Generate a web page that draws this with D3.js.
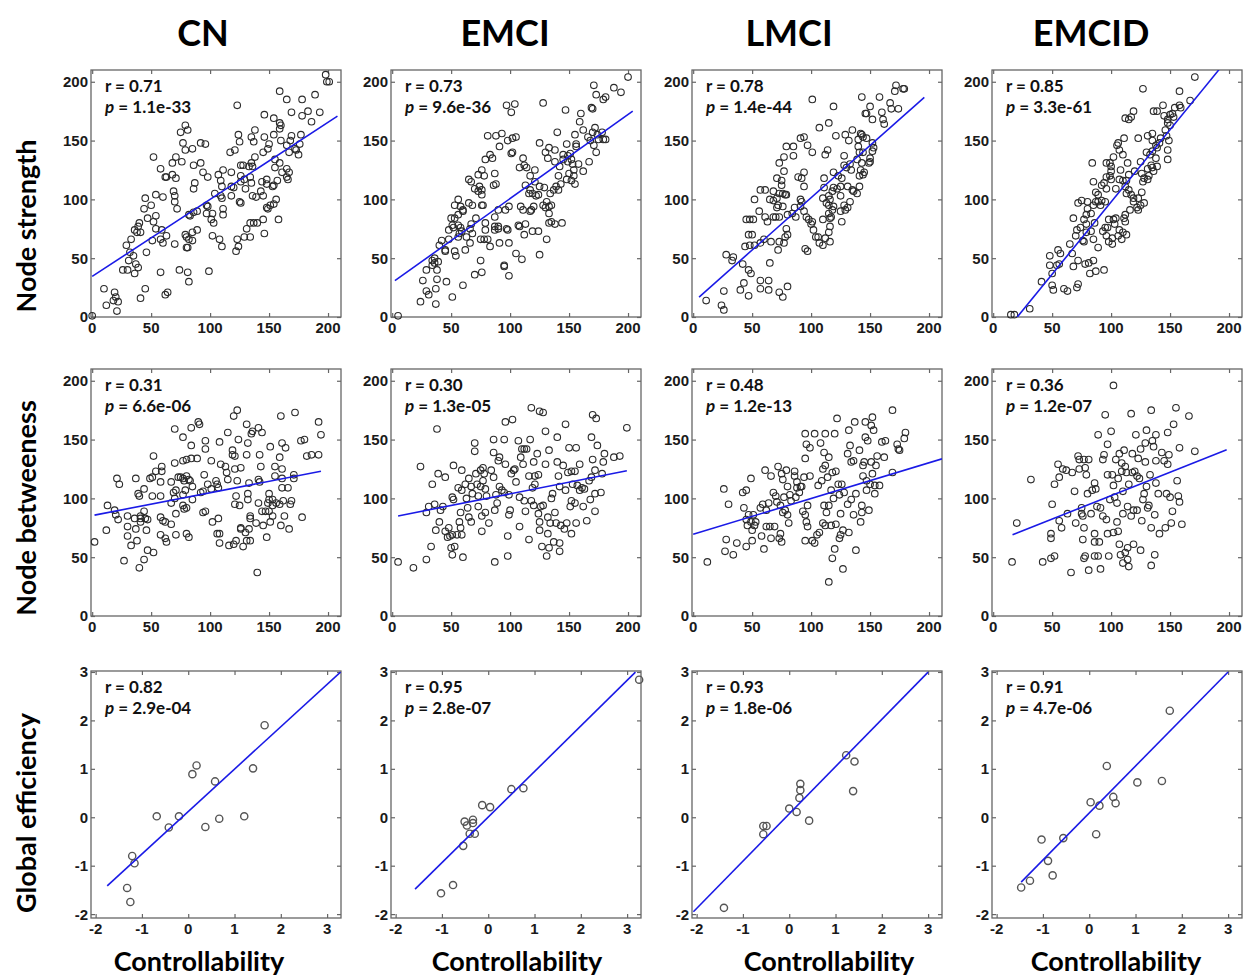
<!DOCTYPE html>
<meta charset="utf-8">
<style>
body { margin: 0; background: #fff; }
.tick-label { font: bold 15px "Liberation Sans", Arial, sans-serif; fill: #1a1a1a; }
.stat { font: bold 17px Lato, sans-serif; fill: #111; }
.title { font: bold 36px Lato, sans-serif; fill: #000; }
.rowlab, .xlab { font: bold 27px Lato, sans-serif; fill: #000; }
</style>
<svg width="1247" height="977"></svg>
<script src="https://d3js.org/d3.v7.min.js"></script>
<script>

var groups = ["CN", "EMCI", "LMCI", "EMCID"];
var rowLabels = ["Node strength", "Node betweeness", "Global efficiency"];

// r and p annotations, one array per row
var statStrength = [["0.71", "1.1e-33"], ["0.73", "9.6e-36"], ["0.78", "1.4e-44"], ["0.85", "3.3e-61"]];
var statBetween  = [["0.31", "6.6e-06"], ["0.30", "1.3e-05"], ["0.48", "1.2e-13"], ["0.36", "1.2e-07"]];
var statGlobal   = [["0.82", "2.9e-04"], ["0.95", "2.8e-07"], ["0.93", "1.8e-06"], ["0.91", "4.7e-06"]];

// fitted lines: [slope, intercept, xStart, xEnd]
var fitStrength = [[0.655, 34.5, 0, 208], [0.715, 29.2, 2.3, 204], [0.889, 12.5, 5, 196], [1.229, -25.1, 20.4, 191.4]];
var fitBetween  = [[0.194, 85.4, 2, 194], [0.198, 84.1, 5, 199], [0.304, 69.5, 0, 211], [0.398, 62.5, 16.4, 198]];
var fitGlobal   = [[0.876, 0.118, -1.75, 3.29], [0.941, 0.003, -1.58, 3.18], [0.976, 0.07, -2.07, 3], [0.971, 0.087, -1.47, 3]];

var strengthCN = [[198,206],[199,200],[201,200],[159,192],[165,185],[178,185],[189,189],[123,180],[146,172],[154,169],[169,174],[178,171],[183,175],[193,174],[186,166],[159,165],[160,163],[159,160],[138,159],[146,153],[154,155],[169,154],[177,155],[168,150],[150,147],[160,150],[165,146],[167,140],[173,142],[175,138],[176,147],[172,143],[124,155],[125,149],[135,153],[137,149],[117,140],[121,142],[138,136],[135,131],[126,129],[128,129],[133,128],[136,128],[145,140],[149,143],[155,134],[159,131],[155,127],[165,126],[167,123],[161,123],[165,119],[166,117],[118,123],[111,125],[107,121],[126,120],[129,117],[126,115],[134,119],[135,114],[144,115],[148,113],[153,111],[154,112],[157,116],[148,117],[109,116],[110,111],[118,111],[120,110],[130,109],[143,107],[109,103],[104,105],[110,101],[118,103],[125,98],[126,97],[136,103],[139,102],[145,103],[148,93],[149,92],[151,95],[154,96],[156,100],[158,83],[145,83],[137,80],[134,80],[140,80],[131,75],[129,68],[134,68],[123,66],[124,60],[122,56],[146,71],[111,92],[111,87],[102,88],[97,88],[98,94],[103,80],[102,69],[108,66],[110,60],[101,83],[75,157],[79,163],[81,159],[77,148],[71,136],[76,132],[68,131],[79,142],[85,143],[92,148],[96,147],[92,131],[86,129],[87,114],[94,123],[98,119],[68,121],[71,118],[63,119],[58,126],[52,136],[62,119],[69,107],[70,103],[70,98],[72,92],[86,109],[86,89],[82,87],[83,86],[89,90],[97,95],[54,104],[60,102],[50,95],[45,101],[44,92],[54,86],[52,81],[47,84],[54,75],[59,74],[63,69],[51,65],[58,66],[60,63],[40,80],[39,77],[36,74],[38,72],[41,72],[33,66],[29,61],[32,55],[35,52],[46,55],[31,48],[37,45],[39,42],[36,37],[26,40],[30,40],[70,62],[79,70],[80,68],[82,66],[80,59],[81,59],[85,72],[85,65],[89,74],[58,38],[74,40],[81,38],[82,30],[99,39],[62,19],[64,21],[45,24],[41,16],[10,24],[12,10],[19,21],[18,14],[20,17],[22,13],[21,5],[0,1]];

var strengthEMCI = [[200,204],[171,197],[188,195],[194,191],[173,189],[181,187],[179,185],[169,178],[170,177],[160,173],[147,176],[128,182],[97,180],[104,181],[101,174],[159,166],[162,159],[170,157],[172,161],[166,153],[168,150],[174,155],[175,151],[178,157],[179,151],[181,151],[171,146],[173,140],[167,132],[162,124],[155,155],[156,147],[156,145],[148,147],[151,139],[145,138],[149,132],[152,134],[153,130],[158,130],[145,134],[149,137],[154,125],[150,122],[154,120],[152,116],[155,113],[148,117],[140,157],[138,142],[138,132],[142,128],[141,120],[143,113],[139,111],[137,108],[141,108],[133,144],[130,140],[132,135],[125,148],[121,125],[117,120],[121,115],[125,111],[129,110],[134,105],[113,112],[117,108],[119,105],[122,103],[124,104],[116,105],[112,129],[114,127],[108,127],[111,135],[102,140],[101,139],[105,153],[102,152],[93,156],[98,150],[91,145],[88,154],[81,154],[83,138],[79,134],[85,135],[87,122],[86,112],[88,113],[76,125],[73,121],[78,120],[74,111],[76,108],[73,107],[70,109],[67,115],[65,117],[76,104],[77,95],[76,95],[68,95],[65,97],[71,84],[67,79],[60,91],[60,90],[56,87],[58,94],[56,100],[53,95],[50,84],[51,78],[52,76],[48,74],[53,84],[56,78],[58,76],[59,73],[57,71],[56,68],[48,66],[42,65],[40,61],[45,57],[45,56],[39,47],[36,50],[36,46],[53,56],[54,52],[62,57],[66,63],[63,68],[66,75],[68,71],[75,66],[78,66],[79,74],[79,80],[81,66],[83,60],[87,85],[87,77],[87,74],[90,75],[90,77],[90,91],[97,75],[98,74],[99,94],[96,91],[99,63],[107,78],[108,77],[109,94],[111,91],[112,70],[113,79],[117,90],[118,91],[120,94],[119,73],[124,73],[125,53],[128,95],[130,93],[131,98],[133,94],[133,80],[135,81],[133,88],[135,95],[138,79],[144,80],[131,66],[105,54],[110,49],[95,43],[95,44],[99,35],[91,63],[75,48],[76,38],[70,36],[60,27],[51,17],[46,30],[38,32],[29,40],[34,44],[34,48],[38,40],[37,24],[29,22],[31,19],[26,31],[24,13],[37,11],[5,1]];

var strengthLMCI = [[172,197],[171,192],[174,177],[178,194],[179,194],[167,182],[168,177],[158,187],[143,187],[150,179],[146,173],[147,173],[160,174],[161,168],[162,164],[152,168],[135,159],[129,155],[132,150],[142,156],[143,155],[144,153],[147,152],[140,151],[140,145],[141,140],[144,140],[152,148],[153,144],[152,141],[150,135],[149,131],[150,132],[143,131],[142,125],[141,120],[144,121],[145,123],[139,134],[134,125],[133,130],[128,129],[130,127],[128,137],[119,123],[123,120],[126,118],[125,111],[119,110],[118,107],[122,109],[125,103],[131,111],[135,108],[136,107],[139,105],[141,111],[128,95],[129,91],[125,90],[133,98],[131,93],[115,103],[116,100],[119,94],[110,101],[113,97],[115,95],[118,91],[111,110],[111,118],[114,142],[112,138],[115,165],[107,161],[119,179],[121,154],[101,185],[101,140],[97,146],[94,153],[91,152],[92,118],[89,119],[94,123],[94,111],[91,100],[92,98],[91,94],[86,93],[84,88],[87,85],[94,90],[96,85],[98,83],[101,81],[100,79],[102,74],[106,68],[104,68],[107,63],[110,61],[115,88],[116,84],[110,83],[116,77],[117,85],[115,72],[112,67],[116,64],[95,58],[97,56],[126,81],[79,145],[85,145],[85,137],[73,131],[77,136],[77,124],[75,116],[71,118],[75,112],[76,105],[78,104],[79,104],[73,105],[71,101],[68,107],[65,100],[61,108],[57,108],[52,100],[72,95],[71,93],[76,94],[73,85],[70,85],[68,85],[63,81],[61,85],[56,90],[51,83],[48,83],[45,83],[47,70],[50,70],[52,61],[48,61],[44,60],[57,63],[60,66],[66,64],[73,64],[77,63],[78,68],[80,70],[79,75],[80,87],[68,99],[72,57],[65,46],[57,31],[64,31],[57,24],[64,23],[73,21],[76,17],[80,26],[42,45],[43,29],[40,23],[47,40],[49,37],[47,18],[34,51],[33,48],[28,53],[26,22],[24,10],[26,6],[11,14]];

var strengthEMCID = [[171,204],[127,194],[158,192],[167,184],[144,180],[158,180],[159,178],[154,178],[152,173],[150,172],[148,168],[145,171],[148,165],[153,170],[150,163],[146,159],[147,154],[149,150],[148,142],[148,134],[139,175],[136,175],[142,152],[141,148],[135,156],[131,154],[135,150],[138,146],[139,144],[135,141],[133,138],[138,135],[139,128],[135,127],[134,129],[131,126],[136,124],[132,120],[128,118],[131,117],[127,115],[126,122],[125,132],[120,124],[123,152],[130,140],[117,170],[115,168],[119,175],[112,169],[111,152],[105,146],[106,148],[107,142],[110,138],[114,131],[102,136],[108,125],[100,124],[99,120],[100,117],[104,109],[107,117],[110,116],[113,116],[112,111],[115,121],[115,108],[113,105],[117,104],[119,101],[119,98],[123,101],[122,93],[126,106],[128,97],[125,95],[123,91],[116,91],[112,87],[111,84],[112,81],[104,84],[102,83],[98,83],[97,76],[103,79],[107,74],[110,72],[113,70],[106,69],[109,66],[101,67],[98,64],[101,62],[96,69],[93,73],[95,76],[91,95],[89,98],[92,99],[95,98],[96,109],[92,112],[94,114],[96,119],[100,128],[99,131],[96,131],[84,131],[85,115],[87,106],[89,104],[87,98],[85,95],[80,98],[75,99],[72,97],[80,92],[79,87],[77,83],[83,88],[86,80],[79,79],[83,73],[79,72],[74,76],[71,74],[70,69],[68,84],[76,65],[77,64],[85,66],[89,59],[72,48],[78,45],[81,46],[82,37],[85,48],[87,39],[94,40],[55,57],[57,54],[56,45],[54,44],[48,52],[48,44],[50,37],[65,62],[67,54],[68,43],[50,27],[51,23],[60,24],[63,22],[71,25],[72,28],[41,30],[31,7],[15,2],[18,2]];

var betweenCN = [[2,63],[12,73],[13,94],[19,90],[20,86],[22,82],[21,117],[23,112],[27,47],[30,68],[30,76],[30,85],[33,60],[36,83],[37,74],[37,117],[38,64],[40,41],[39,104],[40,102],[41,80],[41,83],[41,85],[44,89],[45,83],[47,82],[44,108],[44,48],[46,73],[47,56],[49,117],[52,54],[51,102],[52,136],[54,123],[51,118],[58,114],[58,102],[58,84],[58,69],[59,123],[59,127],[60,81],[62,80],[62,66],[63,63],[67,78],[67,114],[67,96],[69,105],[70,130],[70,159],[71,107],[71,87],[71,69],[70,100],[73,118],[75,118],[77,117],[78,115],[80,119],[82,116],[79,107],[77,103],[77,94],[78,91],[80,92],[80,70],[82,67],[77,132],[77,152],[80,133],[84,134],[84,145],[84,160],[83,115],[85,110],[89,134],[90,165],[91,163],[85,99],[92,105],[94,106],[94,88],[96,89],[95,120],[96,149],[96,142],[98,112],[101,108],[101,132],[102,80],[105,115],[106,112],[107,109],[107,83],[106,70],[108,70],[108,148],[108,62],[109,129],[113,127],[114,122],[115,116],[115,156],[116,60],[119,141],[119,137],[120,61],[120,170],[121,136],[121,125],[121,95],[122,102],[123,175],[122,64],[123,115],[124,150],[125,94],[126,126],[126,75],[126,74],[128,59],[130,71],[131,137],[131,163],[131,64],[132,104],[132,147],[132,99],[133,113],[133,74],[134,83],[134,64],[135,155],[136,157],[134,85],[139,79],[141,160],[141,116],[142,137],[141,96],[143,127],[140,37],[142,114],[144,156],[144,89],[145,77],[147,89],[148,67],[150,104],[150,99],[149,96],[150,89],[151,144],[151,80],[153,99],[153,94],[153,85],[155,127],[155,119],[156,96],[159,135],[159,95],[160,170],[161,147],[161,125],[161,109],[160,77],[161,117],[162,98],[163,85],[164,143],[167,74],[166,109],[168,95],[169,98],[171,117],[171,120],[172,173],[177,149],[180,150],[178,84],[182,136],[186,137],[192,137],[192,165],[194,154]];

var betweenEMCI = [[5,46],[18,41],[29,48],[24,127],[29,88],[31,93],[33,59],[34,112],[36,95],[37,73],[38,159],[39,121],[40,80],[41,90],[43,93],[45,118],[45,72],[47,67],[48,75],[49,68],[50,58],[51,52],[51,101],[52,99],[51,69],[53,59],[52,128],[55,69],[56,109],[57,80],[58,88],[58,75],[59,69],[59,124],[59,107],[60,50],[62,112],[63,100],[64,92],[65,117],[65,84],[67,80],[67,110],[68,104],[70,147],[70,140],[71,121],[72,112],[73,93],[73,102],[75,110],[75,124],[76,85],[76,72],[77,126],[77,115],[78,121],[79,88],[79,108],[80,102],[82,79],[84,124],[86,118],[86,139],[86,150],[87,46],[87,90],[88,103],[89,96],[90,132],[91,110],[91,135],[93,107],[95,105],[95,150],[96,165],[96,129],[98,51],[98,68],[99,103],[99,86],[100,90],[101,121],[102,167],[103,124],[104,125],[105,114],[107,149],[108,101],[108,76],[109,135],[110,142],[111,129],[112,98],[112,142],[113,89],[114,142],[116,119],[116,65],[117,150],[118,177],[118,98],[119,109],[120,94],[121,112],[120,131],[121,119],[123,138],[124,87],[124,120],[125,174],[125,80],[125,73],[126,93],[127,59],[128,173],[128,94],[130,129],[130,157],[131,51],[132,70],[132,84],[133,141],[133,58],[134,79],[135,100],[136,104],[137,63],[138,88],[139,79],[140,152],[140,131],[141,119],[142,110],[142,62],[142,55],[143,77],[145,128],[146,74],[147,163],[147,107],[148,79],[149,122],[150,143],[151,93],[152,98],[152,70],[152,123],[153,112],[155,123],[155,96],[156,143],[156,79],[157,111],[159,107],[159,129],[161,109],[162,93],[163,108],[165,81],[167,115],[168,99],[169,152],[169,118],[170,133],[170,171],[172,104],[172,89],[172,124],[173,168],[174,145],[177,105],[178,121],[179,131],[180,138],[188,135],[193,136],[199,160]];

var betweenLMCI = [[12,46],[26,108],[27,55],[28,65],[30,95],[34,52],[37,62],[42,105],[43,92],[45,107],[45,59],[45,82],[46,77],[47,86],[49,117],[49,80],[50,64],[50,73],[51,86],[52,77],[53,80],[57,92],[58,68],[59,95],[60,57],[61,124],[62,76],[62,90],[64,96],[65,76],[66,66],[66,119],[68,105],[69,76],[70,102],[71,97],[72,127],[73,66],[74,94],[74,70],[75,121],[75,63],[76,88],[76,116],[77,101],[78,90],[79,124],[80,86],[80,110],[81,79],[82,103],[83,98],[86,123],[86,119],[87,101],[88,114],[88,109],[90,105],[91,110],[92,110],[93,89],[94,118],[95,134],[95,86],[95,64],[95,155],[96,146],[96,80],[97,94],[97,76],[99,119],[99,143],[101,64],[103,62],[103,155],[105,69],[106,111],[107,71],[108,147],[109,115],[110,125],[110,79],[111,139],[111,94],[112,77],[112,155],[112,128],[113,88],[114,118],[115,135],[115,94],[117,107],[117,77],[118,49],[118,122],[119,100],[120,57],[120,155],[121,123],[121,78],[122,168],[123,112],[124,103],[124,66],[125,69],[125,87],[126,112],[127,73],[127,40],[128,105],[131,138],[131,95],[132,71],[132,158],[133,145],[134,99],[134,131],[136,86],[136,132],[137,165],[138,104],[138,56],[141,141],[142,80],[143,94],[143,88],[144,128],[144,119],[145,131],[146,152],[146,165],[147,115],[147,107],[148,149],[149,90],[150,112],[151,131],[151,162],[152,121],[152,169],[153,158],[154,111],[154,104],[155,128],[156,136],[158,111],[160,148],[162,135],[163,149],[169,122],[169,175],[173,146],[174,142],[175,141],[179,151],[180,156],[115,29]];

var betweenEMCID = [[16,46],[20,79],[32,116],[42,46],[49,49],[50,95],[49,70],[49,66],[52,51],[52,112],[55,129],[56,81],[56,118],[58,75],[59,125],[62,124],[63,87],[66,37],[67,122],[69,106],[70,79],[72,136],[73,125],[73,133],[75,92],[75,87],[76,85],[76,65],[77,75],[77,133],[78,126],[77,49],[78,51],[79,120],[80,104],[81,39],[81,133],[83,87],[84,107],[86,113],[86,70],[86,63],[86,51],[87,108],[88,93],[89,154],[89,51],[90,63],[91,40],[91,92],[93,85],[93,133],[94,137],[95,171],[96,82],[97,70],[97,146],[97,120],[98,51],[99,99],[100,157],[101,120],[102,111],[102,71],[103,101],[104,133],[105,96],[105,80],[106,72],[106,117],[107,138],[107,61],[108,52],[109,130],[109,123],[110,87],[110,106],[110,45],[111,141],[112,127],[112,54],[113,122],[114,93],[114,58],[114,48],[115,112],[115,42],[117,172],[117,85],[118,122],[118,138],[119,90],[119,61],[120,123],[121,154],[122,90],[122,119],[123,134],[124,117],[125,56],[125,142],[126,81],[127,99],[128,104],[129,147],[129,131],[130,110],[130,158],[131,92],[132,94],[133,120],[134,175],[134,75],[134,43],[135,149],[136,144],[137,86],[137,52],[138,154],[138,113],[138,132],[140,104],[141,70],[143,139],[145,132],[146,75],[147,104],[148,156],[148,129],[149,137],[150,101],[151,79],[152,89],[153,163],[155,177],[156,115],[157,102],[158,97],[158,143],[160,78],[166,170],[171,140],[102,196]];

var globalCN = [[1.65,1.9],[1.4,1.01],[0.18,1.07],[0.09,0.89],[0.58,0.74],[-0.68,0.02],[-0.2,0.02],[1.21,0.02],[0.67,-0.03],[-0.42,-0.21],[0.37,-0.2],[-1.21,-0.8],[-1.16,-0.95],[-1.32,-1.46],[-1.25,-1.75]];
var globalEMCI = [[3.26,2.84],[0.76,0.6],[0.5,0.58],[-0.13,0.25],[0.04,0.21],[-0.51,-0.09],[-0.33,-0.05],[-0.33,-0.12],[-0.46,-0.17],[-0.4,-0.34],[-0.29,-0.34],[-0.54,-0.59],[-0.76,-1.4],[-1.02,-1.57]];
var globalLMCI = [[1.23,1.28],[1.41,1.15],[1.38,0.54],[0.24,0.69],[0.24,0.56],[0.22,0.4],[0,0.18],[0.16,0.11],[0.43,-0.07],[-0.56,-0.18],[-0.49,-0.18],[-0.56,-0.35],[-1.41,-1.87]];
var globalEMCID = [[1.74,2.2],[0.38,1.06],[1.04,0.72],[1.57,0.75],[0.52,0.42],[0.57,0.29],[0.03,0.31],[0.22,0.24],[0.15,-0.35],[-0.56,-0.43],[-1.03,-0.46],[-0.89,-0.9],[-0.79,-1.2],[-1.28,-1.31],[-1.47,-1.45]];

var strengthTicks = [0, 50, 100, 150, 200];
var globalTicks = [-2, -1, 0, 1, 2, 3];

var svg = d3.select("svg");

var colLeft = [91, 391, 692, 992],
    rowTop = [70, 369, 671],
    pw = 250, ph = 247;

var rows = [
  { data: [strengthCN, strengthEMCI, strengthLMCI, strengthEMCID], fit: fitStrength, stat: statStrength,
    xdom: [-1, 211], ydom: [0, 210], ticks: strengthTicks, ring: "#2b2b2b", rw: 1.1, r: 3.3 },
  { data: [betweenCN, betweenEMCI, betweenLMCI, betweenEMCID], fit: fitBetween, stat: statBetween,
    xdom: [-1, 211], ydom: [0, 210], ticks: strengthTicks, ring: "#2b2b2b", rw: 1.1, r: 3.3 },
  { data: [globalCN, globalEMCI, globalLMCI, globalEMCID], fit: fitGlobal, stat: statGlobal,
    xdom: [-2.1, 3.3], ydom: [-2.08, 3.02], ticks: globalTicks, ring: "#555", rw: 1.4, r: 3.6 }
];

rows.forEach(function(row, ri) {
  groups.forEach(function(gname, ci) {
    var g = svg.append("g").attr("transform", "translate(" + colLeft[ci] + "," + rowTop[ri] + ")");
    var x = d3.scaleLinear().domain(row.xdom).range([0, pw]);
    var y = d3.scaleLinear().domain(row.ydom).range([ph, 0]);

    var clipId = "clip" + ri + ci;
    g.append("clipPath").attr("id", clipId)
      .append("rect").attr("width", pw).attr("height", ph);

    // inward ticks on all four sides
    var ax = [
      d3.axisBottom(x).tickValues(row.ticks).tickSize(-4).tickFormat(""),
      d3.axisTop(x).tickValues(row.ticks).tickSize(-4).tickFormat(""),
      d3.axisLeft(y).tickValues(row.ticks).tickSize(-4).tickFormat(""),
      d3.axisRight(y).tickValues(row.ticks).tickSize(-4).tickFormat("")
    ];
    var pos = ["translate(0," + ph + ")", null, null, "translate(" + pw + ",0)"];
    ax.forEach(function(a, k) {
      var s = g.append("g").attr("transform", pos[k]).call(a);
      s.select(".domain").remove();
      s.selectAll("line").attr("stroke", "#666").attr("stroke-width", 1.2);
    });

    g.selectAll(".xl").data(row.ticks).enter().append("text")
      .attr("class", "tick-label")
      .attr("x", function(d) { return x(d); })
      .attr("y", ph + 16)
      .attr("text-anchor", "middle")
      .text(function(d) { return d; });

    g.selectAll(".yl").data(row.ticks).enter().append("text")
      .attr("class", "tick-label")
      .attr("x", -3)
      .attr("y", function(d) { return y(d); })
      .attr("dy", "0.36em")
      .attr("text-anchor", "end")
      .text(function(d) { return d; });

    g.append("rect")
      .attr("width", pw).attr("height", ph)
      .attr("fill", "none").attr("stroke", "#666").attr("stroke-width", 1.3);

    g.selectAll("circle").data(row.data[ci]).enter().append("circle")
      .attr("cx", function(d) { return x(d[0]); })
      .attr("cy", function(d) { return y(d[1]); })
      .attr("r", row.r)
      .attr("fill", "none")
      .attr("stroke", row.ring)
      .attr("stroke-width", row.rw);

    var f = row.fit[ci];
    g.append("line")
      .attr("clip-path", "url(#" + clipId + ")")
      .attr("x1", x(f[2])).attr("y1", y(f[0] * f[2] + f[1]))
      .attr("x2", x(f[3])).attr("y2", y(f[0] * f[3] + f[1]))
      .attr("stroke", "#1a1ae6").attr("stroke-width", 1.6);

    g.append("text").attr("class", "stat")
      .attr("x", 14).attr("y", 22)
      .text("r = " + row.stat[ci][0]);
    var pt = g.append("text").attr("class", "stat").attr("x", 14).attr("y", 43);
    pt.append("tspan").attr("font-style", "italic").text("p");
    pt.append("tspan").text(" = " + row.stat[ci][1]);
  });
});

// column titles
var titleX = [203, 505, 789, 1091];
svg.selectAll(".title").data(groups).enter().append("text")
  .attr("class", "title")
  .attr("x", function(d, i) { return titleX[i]; })
  .attr("y", 46)
  .attr("text-anchor", "middle")
  .text(function(d) { return d; });

// row labels
var rowMid = [226, 508, 813];
svg.selectAll(".rowlab").data(rowLabels).enter().append("text")
  .attr("class", "rowlab")
  .attr("transform", function(d, i) { return "translate(36," + rowMid[i] + ") rotate(-90)"; })
  .attr("text-anchor", "middle")
  .text(function(d) { return d; });

// x axis labels
var xlabX = [199, 517, 829, 1116];
svg.selectAll(".xlab").data(xlabX).enter().append("text")
  .attr("class", "xlab")
  .attr("x", function(d) { return d; })
  .attr("y", 971)
  .attr("text-anchor", "middle")
  .text("Controllability");

</script>
